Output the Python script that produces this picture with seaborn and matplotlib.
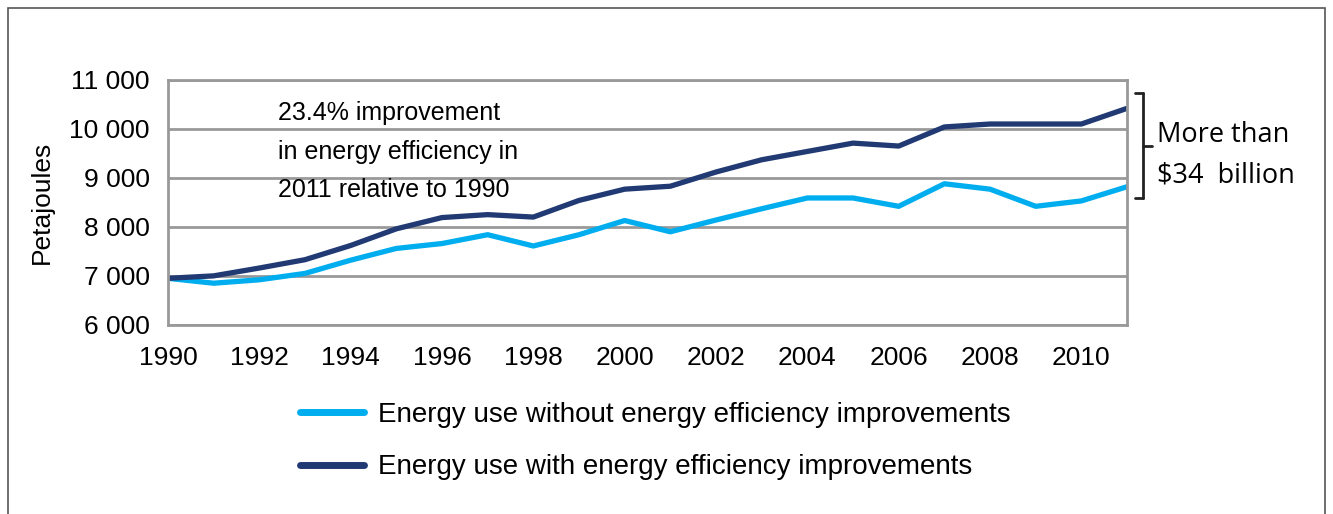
import matplotlib
matplotlib.use("Agg")
import matplotlib.pyplot as plt
from matplotlib.lines import Line2D
from matplotlib.patches import Rectangle
import seaborn as sns
import pandas as pd

years = list(range(1990, 2012))
without_eff = [6950, 6850, 6920, 7050, 7320, 7560, 7660, 7840, 7610, 7840, 8130,
               7900, 8140, 8370, 8590, 8590, 8420, 8880, 8770, 8420, 8530, 8820]
with_eff = [6950, 7000, 7160, 7330, 7620, 7960, 8190, 8250, 8200, 8540, 8770,
            8830, 9120, 9370, 9540, 9710, 9650, 10040, 10100, 10100, 10100, 10420]
series_names = ["Energy use without energy efficiency improvements",
                "Energy use with energy efficiency improvements"]
colors = ["#00AEEF", "#213A73"]

df = pd.DataFrame({
    "year": years * 2,
    "pj": without_eff + with_eff,
    "series": [series_names[0]] * len(years) + [series_names[1]] * len(years),
})

sns.set_theme(style="white")
plt.rcParams["font.family"] = ["Liberation Sans", "DejaVu Sans"]
plt.rcParams["text.color"] = "black"
plt.rcParams["xtick.labelcolor"] = "black"
plt.rcParams["ytick.labelcolor"] = "black"
plt.rcParams["axes.labelcolor"] = "black"

fig = plt.figure(figsize=(13.33, 5.14), dpi=100)
ax = fig.add_axes([0.126, 0.368, 0.7195, 0.4765])

sns.lineplot(data=df, x="year", y="pj", hue="series", palette=colors,
             linewidth=3.8, ax=ax, legend=False)

ax.set_xlim(1990, 2011)
ax.set_ylim(6000, 11000)
ax.set_xticks(range(1990, 2012))
ax.set_xticklabels([str(y) if y % 2 == 0 else "" for y in range(1990, 2012)])
ax.set_yticks(range(6000, 11001, 1000))
ax.set_yticklabels([f"{v // 1000} 000" for v in range(6000, 11001, 1000)])
ax.tick_params(axis="x", length=6, width=2, color="#999999", labelsize=19, pad=9)
ax.tick_params(axis="y", length=0, labelsize=19, pad=13)
ax.grid(axis="y", color="#999999", linewidth=2)
ax.set_axisbelow(True)
for s in ax.spines.values():
    s.set_color("#999999")
    s.set_linewidth(2)
ax.set_xlabel("")
ax.set_ylabel("Petajoules", fontsize=19, labelpad=11)

ax.text(1992.4, 10560, "23.4% improvement\nin energy efficiency in\n2011 relative to 1990",
        fontsize=18, va="top", ha="left", linespacing=1.75)

# bracket on the right
bx = 1143 / 1333
top, mid, bot = 1 - 93 / 514, 1 - 146 / 514, 1 - 198 / 514
kw = dict(color="#222222", linewidth=2, transform=fig.transFigure)
fig.lines += [
    Line2D([1135 / 1333, bx], [top, top], **kw),
    Line2D([bx, bx], [top, bot], **kw),
    Line2D([1135 / 1333, bx], [bot, bot], **kw),
    Line2D([bx, 1152 / 1333], [mid, mid], **kw),
]
fig.text(1157 / 1333, 1 - 135 / 514, "More than", fontsize=19.5, va="center",
         family=["Open Sans", "DejaVu Sans"])
fig.text(1157 / 1333, 1 - 175 / 514, "$34  billion", fontsize=19.5, va="center",
         family=["Open Sans", "DejaVu Sans"])

handles = [Line2D([], [], color=c, linewidth=5, solid_capstyle="round") for c in colors]
fig.legend(handles, series_names, loc="upper left", bbox_to_anchor=(275 / 1333, 1 - 377 / 514),
           frameon=False, fontsize=20, handlelength=2.3, handletextpad=0.5,
           labelspacing=0.95)

fig.patches.append(Rectangle((8 / 1333, -0.05), 1317 / 1333, 1 - 8 / 514 + 0.05,
                             transform=fig.transFigure, fill=False,
                             edgecolor="#555555", linewidth=1.2))

fig.savefig("out.png", dpi=100)
